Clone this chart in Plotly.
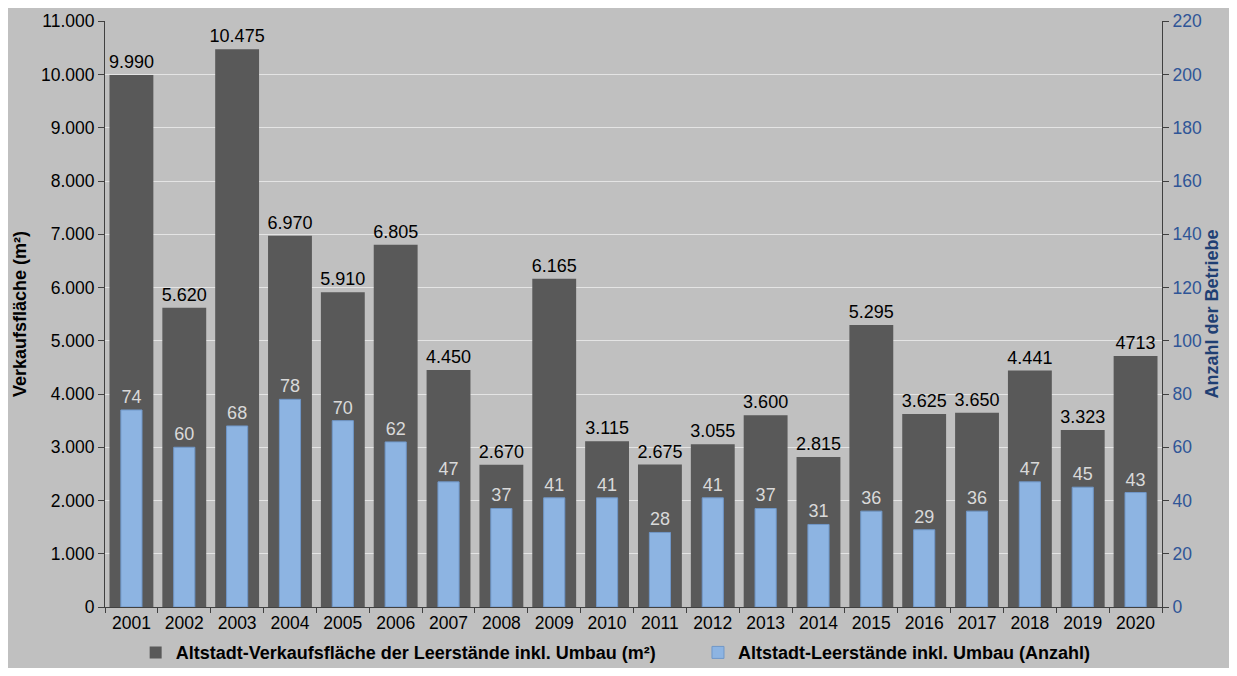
import plotly.graph_objects as go

years = [str(y) for y in range(2001, 2021)]
area = [9990, 5620, 10475, 6970, 5910, 6805, 4450, 2670, 6165, 3115,
        2675, 3055, 3600, 2815, 5295, 3625, 3650, 4441, 3323, 4713]
area_labels = ["9.990", "5.620", "10.475", "6.970", "5.910", "6.805", "4.450", "2.670",
               "6.165", "3.115", "2.675", "3.055", "3.600", "2.815", "5.295", "3.625",
               "3.650", "4.441", "3.323", "4713"]
count = [74, 60, 68, 78, 70, 62, 47, 37, 41, 41, 28, 41, 37, 31, 36, 29, 36, 47, 45, 43]

name_area = "Altstadt-Verkaufsfläche der Leerstände inkl. Umbau (m²)"
name_count = "Altstadt-Leerstände inkl. Umbau (Anzahl)"

W, H = 1221, 660
L, R, T, B = 97, 67, 13, 61
pw = W - L - R

fig = go.Figure()
fig.add_trace(go.Bar(
    x=years, y=area, name=name_area, text=area_labels, textposition="outside",
    textfont=dict(color="#000000", size=18), marker=dict(color="#595959", line=dict(width=0)),
    width=0.83, offset=-0.415, cliponaxis=False, constraintext="none", yaxis="y",
    legend="legend", showlegend=True,
))
fig.add_trace(go.Bar(
    x=years, y=count, name=name_count, text=[str(c) for c in count], textposition="outside",
    textfont=dict(color="#d9d9d9", size=18),
    marker=dict(color="#8db4e2", line=dict(color="#7097c8", width=1)),
    width=0.4, offset=-0.2, cliponaxis=False, constraintext="none", yaxis="y2",
    legend="legend2", showlegend=True,
))

legend_font = dict(family="Liberation Sans Narrow, Arial Narrow, Liberation Sans, sans-serif",
                   size=18, color="#000000", weight="bold")

fig.update_layout(
    width=W, height=H,
    margin=dict(l=L, r=R, t=T, b=B, autoexpand=False),
    paper_bgcolor="#c0c0c0", plot_bgcolor="#c0c0c0",
    barmode="overlay",
    separators=",.",
    showlegend=True,
    font=dict(family="Liberation Sans, Arial, sans-serif", size=17.5, color="#000000"),
    xaxis=dict(type="category", range=[-0.5, 19.5], tickson="boundaries",
               ticks="outside", ticklen=5, tickcolor="#404040",
               showline=True, linecolor="#404040", linewidth=1,
               showgrid=False, tickfont=dict(size=17.5), automargin=False),
    yaxis=dict(range=[0, 11005], tickmode="linear", tick0=0, dtick=1000, tickformat=",d",
               ticks="outside", ticklen=6, tickcolor="#404040",
               showline=True, linecolor="#404040", linewidth=1,
               gridcolor="#e4e4e4", gridwidth=1, zeroline=False,
               tickfont=dict(size=17.5), automargin=False, ticklabeloverflow="allow",
               title=dict(text="<b>Verkaufsfläche (m²)</b>", font=dict(size=18), standoff=9)),
    yaxis2=dict(range=[0, 220.1], tickmode="linear", tick0=0, dtick=20,
                overlaying="y", side="right",
                ticks="outside", ticklen=6, tickcolor="#404040",
                showline=True, linecolor="#404040", linewidth=1,
                showgrid=False, zeroline=False, automargin=False, ticklabeloverflow="allow",
                tickfont=dict(size=17.5, color="#2f5597"),
                title=dict(text="<b>Anzahl der Betriebe</b>",
                           font=dict(size=18, color="#1f3f73"), standoff=4)),
    legend=dict(orientation="h", x=0.029, xanchor="left", y=-0.078, yanchor="middle",
                font=legend_font, itemwidth=30, bgcolor="rgba(0,0,0,0)", visible=True),
    legend2=dict(orientation="h", x=0.561, xanchor="left", y=-0.078, yanchor="middle",
                 font=legend_font, itemwidth=30, bgcolor="rgba(0,0,0,0)", visible=True),
)

fig.write_html("out.html")
